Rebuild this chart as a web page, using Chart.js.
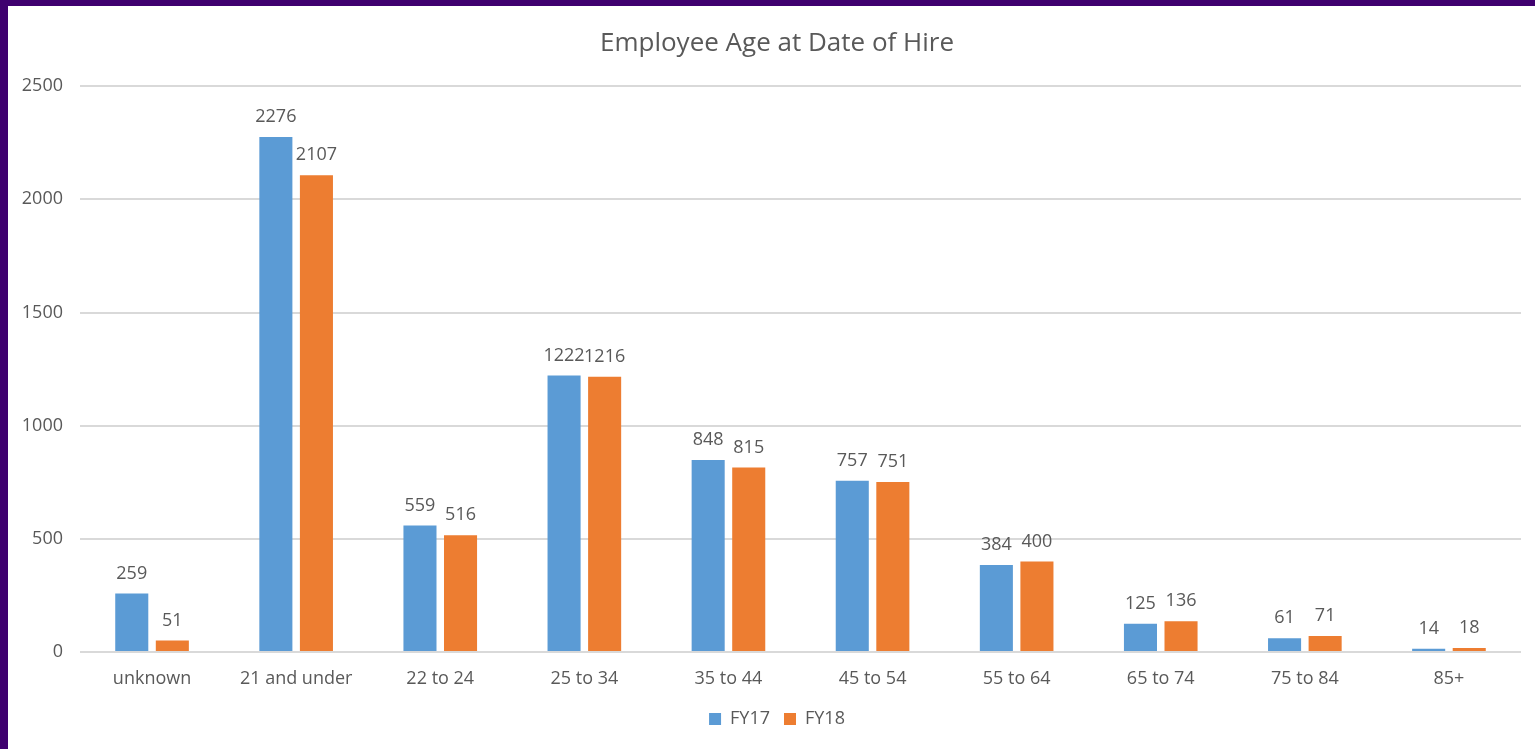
<!DOCTYPE html>
<html>
<head>
<meta charset="utf-8">
<script src="https://cdn.jsdelivr.net/npm/chart.js@4"></script>
<style>
  html, body { margin: 0; padding: 0; background: #3f006f; width: 1535px; height: 749px; overflow: hidden; }
  .panel { position: absolute; left: 8px; top: 6px; width: 1527px; height: 743px; background: #fff; overflow: hidden; }
</style>
</head>
<body>
<div class="panel"><canvas id="ageChart" width="1552" height="743"></canvas></div>
<script>
// data
const categories = ['unknown', '21 and under', '22 to 24', '25 to 34', '35 to 44', '45 to 54', '55 to 64', '65 to 74', '75 to 84', '85+']
const fy17 = [259, 2276, 559, 1222, 848, 757, 384, 125, 61, 14]
const fy18 = [51, 2107, 516, 1216, 815, 751, 400, 136, 71, 18]
const yTicks = [0, 500, 1000, 1500, 2000, 2500]

const textColor = '#595959'
const fontFamily = '"Open Sans", "Segoe UI", sans-serif'

// value labels above each bar
const barLabels = {
    id: 'barLabels',
    afterDatasetsDraw(chart) {
        const ctx = chart.ctx
        ctx.save()
        ctx.fillStyle = textColor
        ctx.font = '18px ' + fontFamily
        ctx.textAlign = 'center'
        ctx.textBaseline = 'middle'
        chart.data.datasets.forEach((ds, i) => {
            chart.getDatasetMeta(i).data.forEach((bar, j) => {
                ctx.fillText(ds.data[j], bar.x, bar.y - 20)
            })
        })
        ctx.restore()
    }
}

const ctx = document.getElementById('ageChart')
new Chart(ctx, {
    type: 'bar',
    data: {
        labels: categories,
        datasets: [
            { label: 'FY17', data: fy17, backgroundColor: '#5b9bd5' },
            { label: 'FY18', data: fy18, backgroundColor: '#ed7d31' }
        ]
    },
    options: {
        responsive: false,
        maintainAspectRatio: false,
        animation: false,
        categoryPercentage: 0.563,
        barPercentage: 0.815,
        // canvas runs a bit past the right edge so title/legend centre where the original has them
        layout: { padding: { left: 0, right: 14, top: 0, bottom: 11 } },
        plugins: {
            title: {
                display: true,
                text: 'Employee Age at Date of Hire',
                color: textColor,
                font: { family: fontFamily, size: 26, weight: 'normal' },
                padding: { top: 22, bottom: 27 }
            },
            legend: {
                position: 'bottom',
                labels: {
                    color: textColor,
                    font: { family: fontFamily, size: 18 },
                    boxWidth: 12,
                    boxHeight: 12,
                    padding: 14
                }
            },
            tooltip: { enabled: false }
        },
        scales: {
            x: {
                afterFit: scale => { scale.height = 44 },
                grid: { display: false },
                border: { display: false },
                ticks: { color: textColor, font: { family: fontFamily, size: 18 }, padding: 8 }
            },
            y: {
                min: 0,
                max: 2500,
                afterFit: scale => { scale.width = 72 },
                afterBuildTicks: scale => { scale.ticks = yTicks.map(v => ({ value: v })) },
                grid: { color: '#d9d9d9', lineWidth: 2, drawTicks: false },
                border: { display: false },
                ticks: {
                    color: textColor,
                    font: { family: fontFamily, size: 18 },
                    padding: 17,
                    callback: v => String(v)
                }
            },
            // empty spacer on the right, keeps the plot edge at the same place
            spacer: {
                type: 'linear',
                position: 'right',
                afterFit: scale => { scale.width = 25 },
                grid: { display: false },
                border: { display: false },
                ticks: { display: false }
            }
        }
    },
    plugins: [barLabels]
})
</script>
</body>
</html>
